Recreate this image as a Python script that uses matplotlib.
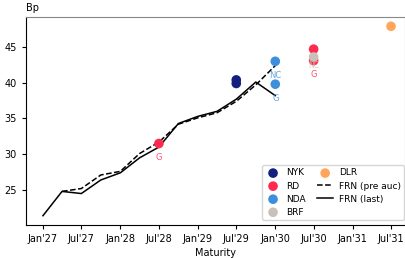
import matplotlib
matplotlib.use("Agg")
import matplotlib.pyplot as plt
from datetime import date, timedelta

# FRN curves (quarterly maturities)
frn_last_dates = ["2027-01-01", "2027-04-01", "2027-07-01", "2027-10-01", "2028-01-01",
                  "2028-04-01", "2028-07-01", "2028-10-01", "2029-01-01", "2029-04-01",
                  "2029-07-01", "2029-10-01", "2030-01-01"]
frn_last = [21.4, 24.8, 24.5, 26.4, 27.4, 29.5, 31.0, 34.3, 35.3, 36.0, 37.7, 40.1, 38.2]

frn_pre_dates = ["2027-04-01", "2027-07-01", "2027-10-01", "2028-01-01", "2028-04-01",
                 "2028-07-01", "2028-10-01", "2029-01-01", "2029-04-01", "2029-07-01",
                 "2029-10-01", "2030-01-01"]
frn_pre = [24.8, 25.2, 27.1, 27.6, 30.1, 31.7, 34.2, 35.1, 35.8, 37.4, 39.7, 42.4]

# issuer points: maturity, spread, label
nyk_dates = ["2029-07-01", "2029-07-01"]
nyk_vals = [40.4, 39.9]
nyk_labels = ["", ""]

rd_dates = ["2028-07-01", "2030-07-01", "2030-07-01"]
rd_vals = [31.5, 44.7, 43.1]
rd_labels = ["G", "", "G"]

nda_dates = ["2030-01-01", "2030-01-01"]
nda_vals = [43.0, 39.8]
nda_labels = ["NC", "G"]

brf_dates = ["2030-07-01"]
brf_vals = [43.6]
brf_labels = ["NC"]

dlr_dates = ["2031-07-01"]
dlr_vals = [47.9]
dlr_labels = [""]

tick_dates = ["2027-01-01", "2027-07-01", "2028-01-01", "2028-07-01", "2029-01-01",
              "2029-07-01", "2030-01-01", "2030-07-01", "2031-01-01", "2031-07-01"]
tick_labels = ["Jan'27", "Jul'27", "Jan'28", "Jul'28", "Jan'29",
               "Jul'29", "Jan'30", "Jul'30", "Jan'31", "Jul'31"]


def to_dates(lst):
    return [date.fromisoformat(d) for d in lst]


fig = plt.figure(figsize=(4.06, 2.58), dpi=100)
ax = fig.add_axes([26 / 406, 1 - 225 / 258, 379 / 406, 208 / 258])

issuers = [
    ("NYK", nyk_dates, nyk_vals, nyk_labels, "#13207f", -10),
    ("RD", rd_dates, rd_vals, rd_labels, "#ff2a4f", -10),
    ("NDA", nda_dates, nda_vals, nda_labels, "#3d8fdc", -10),
    ("BRF", brf_dates, brf_vals, brf_labels, "#c9c1b9", -6),
    ("DLR", dlr_dates, dlr_vals, dlr_labels, "#ffa65c", -10),
]

for name, ds, vs, labs, col, off in issuers:
    dd = to_dates(ds)
    ax.scatter(dd, vs, s=48, color=col, label=name, zorder=3, edgecolors="none")
    for d, v, lab in zip(dd, vs, labs):
        if lab:
            # small tag under the point
            ax.annotate(lab, (d, v), xytext=(0, off), textcoords="offset points",
                        ha="center", va="center", fontsize=5.5 if name == "BRF" else 6,
                        color=col, alpha=0.8)

ax.plot(to_dates(frn_pre_dates), frn_pre, color="black", linestyle="--", linewidth=1.1,
        label="FRN (pre auc)", zorder=2)
ax.plot(to_dates(frn_last_dates), frn_last, color="black", linestyle="-", linewidth=1.1,
        label="FRN (last)", zorder=2)

ax.set_xlim(date(2027, 1, 1) - timedelta(days=80), date(2031, 7, 1) + timedelta(days=66))
ax.set_ylim(20.1, 49.2)
ax.set_xticks(to_dates(tick_dates))
ax.set_xticklabels(tick_labels)
ax.set_yticks([25, 30, 35, 40, 45])
ax.tick_params(labelsize=7, length=3, width=0.8)
ax.spines["top"].set_color("#888888")
ax.spines["right"].set_color("#888888")
ax.set_xlabel("Maturity", fontsize=7, labelpad=3)
ax.text(0, 1.02, "Bp", transform=ax.transAxes, fontsize=7, ha="left", va="bottom")

ax.legend(loc="lower right", ncol=2, fontsize=6.5, frameon=True, handlelength=1.8,
          handletextpad=0.6, columnspacing=1.2, borderpad=0.35, labelspacing=0.45,
          borderaxespad=0.0, bbox_to_anchor=(0.997, 0.025))

fig.savefig("out.png", dpi=100)
